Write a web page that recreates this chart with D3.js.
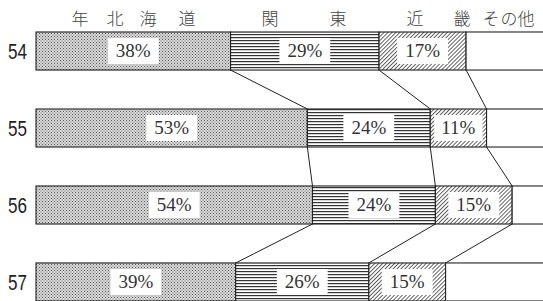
<!DOCTYPE html>
<html>
<head>
<meta charset="utf-8">
<script src="https://cdn.jsdelivr.net/npm/d3@7"></script>
<style>
    body { margin: 0; background: #fff; }
    svg { display: block; }
</style>
</head>
<body>
<div id="chart"></div>
<script>
// Data
const years = ["54", "55", "56", "57"];
const regions = ["北海道", "関東", "近畿", "その他"];
const hokkaido = [38, 53, 54, 39];
const kanto = [29, 24, 24, 26];
const kinki = [17, 11, 15, 15];
const others = [16, 12, 7, 20];

// Set dimensions
const width = 543,
    height = 301;

const svg = d3
    .select("#chart")
    .append("svg")
    .attr("width", width)
    .attr("height", height);

// Patterns
const defs = svg.append("defs");

const dots = defs
    .append("pattern")
    .attr("id", "dots")
    .attr("patternUnits", "userSpaceOnUse")
    .attr("width", 3)
    .attr("height", 3);
dots.append("rect").attr("width", 3).attr("height", 3).attr("fill", "#dadada");
dots.append("rect").attr("x", 0).attr("y", 0).attr("width", 1).attr("height", 1).attr("fill", "#555");
dots.append("rect").attr("x", 1.5).attr("y", 1.5).attr("width", 1).attr("height", 1).attr("fill", "#666");

const hlines = defs
    .append("pattern")
    .attr("id", "hlines")
    .attr("patternUnits", "userSpaceOnUse")
    .attr("width", 6)
    .attr("height", 3);
hlines.append("rect").attr("width", 6).attr("height", 3).attr("fill", "#fff");
hlines.append("rect").attr("y", 1).attr("width", 6).attr("height", 1.2).attr("fill", "#333");

const diag = defs
    .append("pattern")
    .attr("id", "diag")
    .attr("patternUnits", "userSpaceOnUse")
    .attr("width", 2.8)
    .attr("height", 2.8)
    .attr("patternTransform", "rotate(45)");
diag.append("rect").attr("width", 2.8).attr("height", 2.8).attr("fill", "#fff");
diag.append("line")
    .attr("x1", 0).attr("y1", 0).attr("x2", 0).attr("y2", 2.8)
    .attr("stroke", "#222")
    .attr("stroke-width", 1.4);

const fills = ["url(#dots)", "url(#hlines)", "url(#diag)", "#fff"];

// Scales
const x = d3.scaleLinear().domain([0, 100]).range([36, 548]);
const y = d3.scaleBand().domain(years).range([32, 301]).paddingInner(0.506);

// Build stacked data
const table = years.map((yr, i) => ({
    year: yr,
    北海道: hokkaido[i],
    関東: kanto[i],
    近畿: kinki[i],
    その他: others[i],
}));
const series = d3.stack().keys(regions)(table);

// Connector lines between consecutive bars
const boundaries = [0, 1, 2];
for (let i = 0; i < years.length - 1; i++) {
    boundaries.forEach((k) => {
        svg.append("line")
            .attr("x1", x(series[k][i][1]))
            .attr("y1", y(years[i]) + y.bandwidth())
            .attr("x2", x(series[k][i + 1][1]))
            .attr("y2", y(years[i + 1]))
            .attr("stroke", "#222")
            .attr("stroke-width", 1);
    });
}

// Draw segments
const layer = svg
    .selectAll("g.layer")
    .data(series)
    .enter()
    .append("g")
    .attr("class", "layer")
    .attr("fill", (d, i) => fills[i]);

layer
    .selectAll("rect")
    .data((d) => d)
    .enter()
    .append("rect")
    .attr("x", (d) => x(d[0]))
    .attr("y", (d) => y(d.data.year))
    .attr("width", (d) => x(d[1]) - x(d[0]))
    .attr("height", y.bandwidth())
    .attr("stroke", "#222")
    .attr("stroke-width", 1.1);

// Value labels with white boxes (skip その他)
series.slice(0, 3).forEach((s) => {
    s.forEach((d) => {
        const cx = (x(d[0]) + x(d[1])) / 2;
        const cy = y(d.data.year) + y.bandwidth() / 2;
        const g = svg.append("g");
        const t = g
            .append("text")
            .attr("x", cx)
            .attr("y", cy + 6)
            .attr("text-anchor", "middle")
            .style("font-family", "'Liberation Serif', 'DejaVu Serif', serif")
            .style("font-size", "19px")
            .style("fill", "#333")
            .text(`${d[1] - d[0]}%`);
        const w = t.node().getComputedTextLength();
        const segW = x(d[1]) - x(d[0]);
        const boxW = Math.min(w + 16, segW - 8);
        g.insert("rect", "text")
            .attr("x", cx - boxW / 2)
            .attr("y", cy - 13)
            .attr("width", boxW)
            .attr("height", 26)
            .attr("fill", "#fff");
    });
});

// Year labels
svg.selectAll("text.year")
    .data(years)
    .enter()
    .append("text")
    .attr("class", "year")
    .attr("x", 8)
    .attr("y", (d) => y(d) + y.bandwidth() / 2 + 8)
    .attr("textLength", 19)
    .attr("lengthAdjust", "spacingAndGlyphs")
    .style("font-family", "'Liberation Sans', Arial, sans-serif")
    .style("font-size", "22px")
    .style("fill", "#222")
    .text((d) => d);

// Header: 年 + region names spread over the columns
const headerChars = [
    ["年", 80],
    ["北", 115], ["海", 148], ["道", 187],
    ["関", 270], ["東", 338],
    ["近", 415], ["畿", 462],
    ["そ", 491], ["の", 509], ["他", 526],
];
svg.selectAll("text.head")
    .data(headerChars)
    .enter()
    .append("text")
    .attr("class", "head")
    .attr("x", (d) => d[1])
    .attr("y", 25)
    .attr("text-anchor", "middle")
    .style("font-family", "'Noto Sans CJK JP', sans-serif")
    .style("font-weight", 300)
    .style("font-size", "17px")
    .style("fill", "#444")
    .text((d) => d[0]);
</script>
</body>
</html>
